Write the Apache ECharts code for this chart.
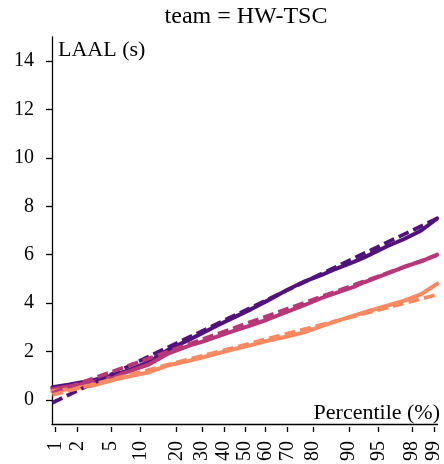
<!DOCTYPE html>
<html><head><meta charset="utf-8">
<script src="https://cdn.jsdelivr.net/npm/echarts@6/dist/echarts.min.js"></script>
<style>html,body{margin:0;padding:0;background:#fff}#c{width:444px;height:464px}</style>
</head><body><div id="c"></div>
<script>
const titleText = 'team = HW-TSC';
const yLabel = 'LAAL (s)';
const xLabel = 'Percentile (%)';
const xTickPercents = [1, 2, 5, 10, 20, 30, 40, 50, 60, 70, 80, 90, 95, 98, 99];
const yTicks = [0, 2, 4, 6, 8, 10, 12, 14];
const percentiles = [0.9, 1.5, 3, 5.5, 8, 12, 17.5, 25, 30, 37, 45, 53, 61, 70, 77, 82.6, 86, 91, 93, 96, 97.5, 98.5, 99.1];
const purpleVals  = [0.52, 0.62, 0.80, 1.03, 1.25, 1.58, 2.08, 2.5, 2.75, 3.08, 3.42, 3.74, 4.1, 4.55, 4.9, 5.15, 5.36, 5.7, 5.9, 6.35, 6.65, 7.0, 7.5];
const magentaVals = [0.45, 0.55, 0.72, 0.98, 1.2, 1.47, 1.92, 2.25, 2.4, 2.62, 2.86, 3.08, 3.32, 3.65, 3.92, 4.2, 4.37, 4.67, 4.87, 5.22, 5.5, 5.72, 6.0];
const orangeVals  = [0.35, 0.44, 0.58, 0.84, 0.98, 1.14, 1.43, 1.62, 1.75, 1.92, 2.1, 2.26, 2.44, 2.62, 2.8, 3.04, 3.2, 3.48, 3.62, 3.89, 4.1, 4.37, 4.8];
const fitPercentiles = [0.9, 99.1];
const purpleFit  = [-0.12, 7.5];
const magentaFit = [0.28, 5.98];
const orangeFit  = [0.2, 4.35];
const colors = ['#51127c', '#b73779', '#fc8961'];

// probit (inverse normal CDF) – the axis scale transform
function probit(p) {
  const a = [-3.969683028665376e+01, 2.209460984245205e+02, -2.759285104469687e+02, 1.383577518672690e+02, -3.066479806614716e+01, 2.506628277459239e+00];
  const b = [-5.447609879822406e+01, 1.615858368580409e+02, -1.556989798598866e+02, 6.680131188771972e+01, -1.328068155288572e+01];
  const c = [-7.784894002430293e-03, -3.223964580411365e-01, -2.400758277161838e+00, -2.549671010029739e+00, 4.374664141464968e+00, 2.938163982698783e+00];
  const d = [7.784695709041462e-03, 3.224671290700398e-01, 2.445134137142996e+00, 3.754408661907416e+00];
  const pl = 0.02425, ph = 1 - pl;
  let q, r;
  if (p < pl) { q = Math.sqrt(-2 * Math.log(p)); return (((((c[0]*q+c[1])*q+c[2])*q+c[3])*q+c[4])*q+c[5]) / ((((d[0]*q+d[1])*q+d[2])*q+d[3])*q+1); }
  if (p <= ph) { q = p - 0.5; r = q*q; return (((((a[0]*r+a[1])*r+a[2])*r+a[3])*r+a[4])*r+a[5])*q / (((((b[0]*r+b[1])*r+b[2])*r+b[3])*r+b[4])*r+1); }
  q = Math.sqrt(-2 * Math.log(1 - p)); return -(((((c[0]*q+c[1])*q+c[2])*q+c[3])*q+c[4])*q+c[5]) / ((((d[0]*q+d[1])*q+d[2])*q+d[3])*q+1);
}
const zOf = p => probit(p / 100);
const xTickZ = xTickPercents.map(zOf);
const FONT = '"Liberation Serif", "DejaVu Serif", serif';

function solid(vals, color) {
  return { type: 'line', xAxisIndex: 0, data: percentiles.map((p, i) => [zOf(p), vals[i]]), showSymbol: false, silent: true,
    lineStyle: { color: color, width: 4, cap: 'round', join: 'round' }, z: 2 };
}
function dashed(vals, color) {
  return { type: 'line', xAxisIndex: 0, data: fitPercentiles.map((p, i) => [zOf(p), vals[i]]), showSymbol: false, silent: true,
    lineStyle: { color: color, width: 3.8, type: [11, 5] }, z: 3 };
}

const chart = echarts.init(document.getElementById('c'), null, { renderer: 'canvas' });
chart.setOption({
  animation: false,
  backgroundColor: '#fff',
  grid: { left: 52, right: 4, top: 37, bottom: 40 },
  xAxis: [
    { type: 'value', min: -2.37, max: 2.37, position: 'bottom',
      axisLine: { show: true, onZero: false, lineStyle: { color: '#000', width: 1.3 } },
      axisTick: { show: false }, axisLabel: { show: false }, splitLine: { show: false } },
    { type: 'value', min: -2.37, max: 2.37, position: 'bottom', offset: 3,
      axisLine: { show: false, onZero: false },
      axisTick: { show: true, length: 5, customValues: xTickZ, lineStyle: { color: '#000', width: 1.3 } },
      axisLabel: { show: true, customValues: xTickZ, rotate: 90, margin: 14, color: '#000', fontSize: 20, fontFamily: FONT,
        formatter: v => { let best = 0; xTickZ.forEach((z, i) => { if (Math.abs(z - v) < Math.abs(xTickZ[best] - v)) best = i; }); return String(xTickPercents[best]); } },
      splitLine: { show: false } }
  ],
  yAxis: { type: 'value', min: -1, max: 15,
    axisLine: { show: true, onZero: false, lineStyle: { color: '#000', width: 1.3 } },
    axisTick: { show: true, length: 6, customValues: yTicks, lineStyle: { color: '#000', width: 1.3 } },
    axisLabel: { customValues: yTicks, margin: 18, color: '#000', fontSize: 20, fontFamily: FONT },
    splitLine: { show: false } },
  graphic: [
    { type: 'text', x: 246, y: 17, style: { text: titleText, font: '24px ' + FONT, fill: '#000', align: 'center', verticalAlign: 'middle' } },
    { type: 'text', x: 58, y: 50, style: { text: yLabel, font: '22px ' + FONT, fill: '#000', verticalAlign: 'middle', align: 'left' } },
    { type: 'text', x: 440, y: 413, style: { text: xLabel, font: '22px ' + FONT, fill: '#000', verticalAlign: 'middle', align: 'right' } }
  ],
  series: [
    solid(purpleVals, colors[0]),
    solid(magentaVals, colors[1]),
    solid(orangeVals, colors[2]),
    dashed(purpleFit, colors[0]),
    dashed(magentaFit, colors[1]),
    dashed(orangeFit, colors[2])
  ]
});
</script></body></html>
